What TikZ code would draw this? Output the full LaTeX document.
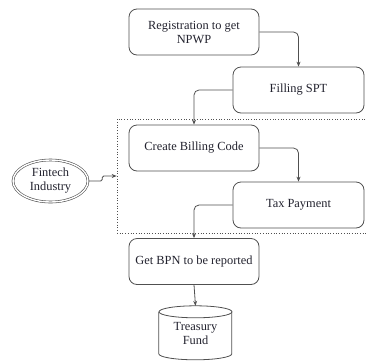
\documentclass[tikz,border=0pt]{standalone}
\usepackage{fontspec}
\setmainfont{Liberation Serif}
\usetikzlibrary{arrows.meta,shapes.geometric}
\definecolor{edge}{HTML}{505050}
\definecolor{txt}{HTML}{22222E}
\tikzset{
  lbl/.style={text=txt, font=\fontsize{12.4}{14}\selectfont},
  stepbox/.style={lbl, draw=edge, line width=0.8pt, rounded corners=8pt, minimum width=130pt, minimum height=46pt, align=center},
  conn/.style={draw=edge, line width=0.8pt, rounded corners=5pt, -{Stealth[length=5pt,width=4pt]}},
}
\begin{document}
\begin{tikzpicture}[x=1pt,y=-1pt]
\useasboundingbox (0,0) rectangle (366,362);
\node[stepbox] (reg) at (194,32) {Registration to get\\NPWP};
\node[stepbox, minimum width=131pt] (spt) at (298.5,90) {Filling SPT};
\node[draw=edge, dotted, line width=0.7pt, minimum width=252pt, minimum height=114pt, inner sep=0pt] (grp) at (243,176) {};
\node[stepbox] (bill) at (194,148) {Create Billing Code};
\node[stepbox, minimum width=131pt] (pay) at (298.5,205) {Tax Payment};
\node[stepbox] (bpn) at (194,261.5) {Get BPN to be reported};
\node[lbl, draw=edge, line width=0.6pt, double=white, double distance=1.4pt, ellipse, minimum width=75pt, minimum height=42pt, align=center, inner sep=0pt] (fin) at (50.5,181) {Fintech\\Industry};
% cylinder
\node[lbl, align=center, minimum width=73pt, minimum height=54pt, inner sep=0pt] (tre) at (195.5,333) {Treasury\\Fund};
\draw[edge, line width=0.8pt] (tre.north west) ++(0,6) -- ++(0,42) arc[start angle=180, end angle=360, x radius=36.5pt, y radius=6pt] -- ++(0,-42);
\draw[edge, line width=0.8pt] (tre.north) ++(0,6) ellipse[x radius=36.5pt, y radius=6pt];
% connectors
\draw[conn] (reg.east) -| (spt.north);
\draw[conn] (spt.west) -| (bill.north);
\draw[conn] (bill.east) -| (pay.north);
\draw[conn] (pay.west) -| (bpn.north);
\draw[conn] (bpn.south) -- (tre.north);
\draw[conn, rounded corners=1.5pt] (fin.east) -- ++(14,0) |- (grp.west);
\end{tikzpicture}
\end{document}
